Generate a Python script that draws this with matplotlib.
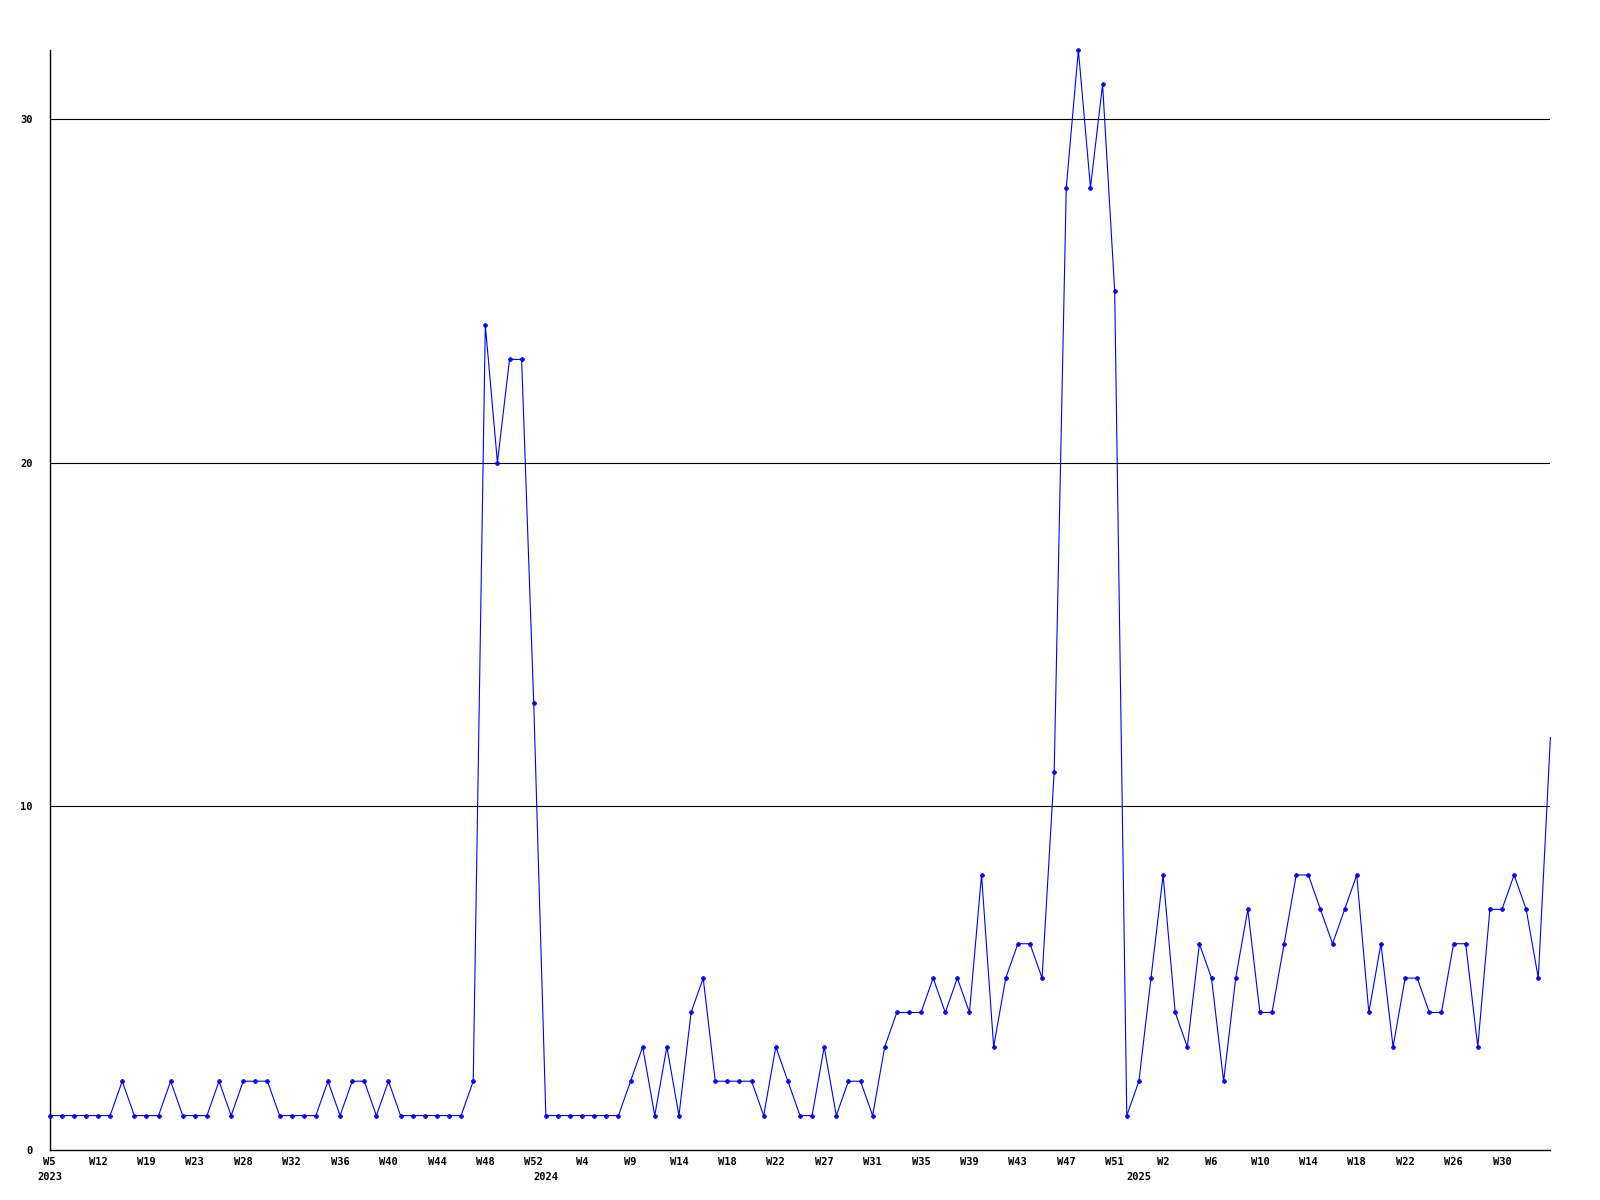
import matplotlib
matplotlib.use("Agg")
import matplotlib.pyplot as plt

# weekly counts, one value per point
counts_2023 = [1, 1, 1, 1, 1, 1, 2, 1, 1, 1, 2, 1, 1, 1, 2, 1, 2, 2, 2, 1,
               1, 1, 1, 2, 1, 2, 2, 1, 2, 1, 1, 1, 1, 1, 1, 2, 24, 20, 23, 23, 13]
counts_2024 = [1, 1, 1, 1, 1, 1, 1, 2, 3, 1, 3, 1, 4, 5, 2, 2, 2, 2, 1, 3,
               2, 1, 1, 3, 1, 2, 2, 1, 3, 4, 4, 4, 5, 4, 5, 4, 8, 3, 5, 6,
               6, 5, 11, 28, 32, 28, 31, 25]
counts_2025 = [1, 2, 5, 8, 4, 3, 6, 5, 2, 5, 7, 4, 4, 6, 8, 8, 7, 6, 7, 8,
               4, 6, 3, 5, 5, 4, 4, 6, 6, 3, 7, 7, 8, 7, 5, 12]

counts = counts_2023 + counts_2024 + counts_2025

# labels shown on every 4th point
week_labels = ["W5", "W12", "W19", "W23", "W28", "W32", "W36", "W40", "W44", "W48", "W52",
               "W4", "W9", "W14", "W18", "W22", "W27", "W31", "W35", "W39", "W43", "W47", "W51",
               "W2", "W6", "W10", "W14", "W18", "W22", "W26", "W30"]
years = ["2023", "2024", "2025"]
year_pos = [0, 41, 90]

font = {"family": "DejaVu Sans Mono", "weight": "bold", "size": 7.5}

fig = plt.figure(figsize=(16, 12), dpi=100)
ax = fig.add_axes([0.031, 0.0417, 0.938, 0.9166])

x = list(range(len(counts)))
# last point sits on the right edge without a marker
ax.plot(x, counts, color="#0000ff", linewidth=0.8, marker="P", markersize=3.2,
        markeredgewidth=0.4, markevery=list(range(len(counts) - 1)),
        clip_on=False, zorder=3)

ax.set_xlim(0, len(counts) - 1)
ax.set_ylim(0, 32)

for v in [10, 20, 30]:
    ax.axhline(v, color="black", linewidth=0.8, zorder=1)

ax.set_yticks([0, 10, 20, 30])
ax.set_yticklabels(["0", "10", "20", "30"], fontdict=font)
ax.set_xticks(list(range(0, len(counts), 4))[:len(week_labels)])
ax.set_xticklabels(week_labels, fontdict=font)
ax.tick_params(axis="y", length=0, pad=12)
ax.tick_params(axis="x", length=0, pad=5)

for name, pos in zip(years, year_pos):
    ax.text(pos, -0.0245, name, transform=ax.get_xaxis_transform(),
            ha="center", va="center", fontdict=font)

ax.spines["top"].set_visible(False)
ax.spines["right"].set_visible(False)
ax.spines["left"].set_linewidth(1.0)
ax.spines["bottom"].set_linewidth(1.0)

fig.savefig("out.png", dpi=100)
